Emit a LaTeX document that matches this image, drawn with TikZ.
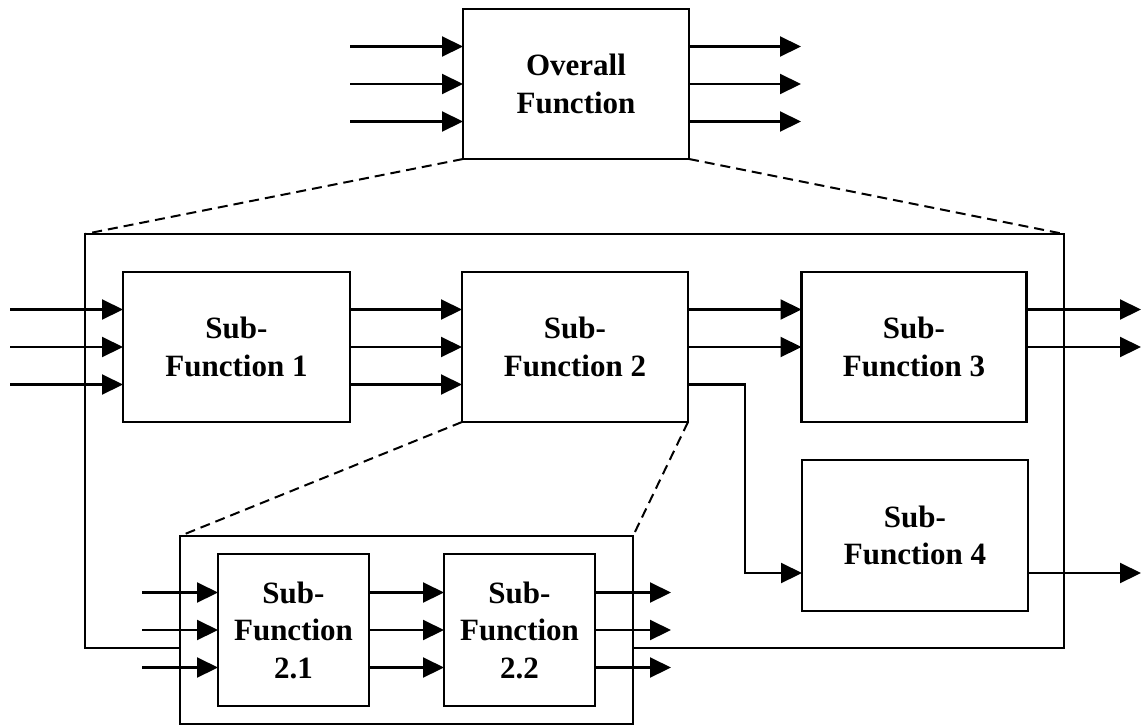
\documentclass[tikz,border=0pt]{standalone}
\usepackage{fontspec}
\setmainfont{Liberation Serif}
\usetikzlibrary{arrows.meta,calc}
\begin{document}
\begin{tikzpicture}[x=1pt,y=-1pt,
  box/.style={draw, line width=2.3pt, fill=white, inner sep=0pt, outer sep=0pt,
    align=center, font=\fontsize{31}{37.5}\selectfont\bfseries},
  frame/.style={draw, line width=2.3pt, inner sep=0pt, outer sep=0pt},
  arr/.style={line width=2.1pt, -{Triangle[length=21pt,width=20pt]}},
  zoomline/.style={line width=2pt, dash pattern=on 10pt off 6pt}]
\useasboundingbox (0,0) rectangle (1142,726);

% decomposed system frame
\node[frame, minimum width=979pt, minimum height=414pt] (sys) at (574.5,441) {};

% overall function
\node[box, minimum width=226pt, minimum height=150pt] (ov) at (576,84) {Overall\\Function};

% first level sub-functions
\node[box, minimum width=227pt, minimum height=150pt] (sf1) at (236.5,347) {Sub-\\Function 1};
\node[box, minimum width=226pt, minimum height=150pt] (sf2) at (575,347) {Sub-\\Function 2};
\node[box, minimum width=225pt, minimum height=150pt] (sf3) at (914,347) {Sub-\\Function 3};
\node[box, minimum width=226pt, minimum height=151pt] (sf4) at (915,535.5) {Sub-\\Function 4};

% frame of sub-function 2 decomposition
\node[frame, fill=white, minimum width=453pt, minimum height=188pt] (sub2) at (406.5,630) {};
\node[box, minimum width=151pt, minimum height=152pt] (sf21) at (293.5,630) {Sub-\\Function\\2.1};
\node[box, minimum width=151pt, minimum height=152pt] (sf22) at (519.5,630) {Sub-\\Function\\2.2};

% zoom lines
\draw[zoomline] (ov.south west) -- (sys.north west);
\draw[zoomline] (ov.south east) -- (sys.north east);
\draw[zoomline] (sf2.south west) -- (sub2.north west);
\draw[zoomline] (sf2.south east) -- (sub2.north east);

% free ends
\coordinate (ovin) at (350,0);
\coordinate (ovout) at (801,0);
\coordinate (sysin) at (10,0);
\coordinate (sysout) at (1141,0);
\coordinate (subin) at (142,0);
\coordinate (subout) at (671,0);

% flows of overall function
\foreach \s in {37.5,0,-37.5}{
  \draw[arr] ([yshift=\s pt]ov.west -| ovin) -- ([yshift=\s pt]ov.west);
  \draw[arr] ([yshift=\s pt]ov.east) -- ([yshift=\s pt]ov.east -| ovout);
}

% flows of first level
\foreach \s in {37.5,0,-37.5}{
  \draw[arr] ([yshift=\s pt]sf1.west -| sysin) -- ([yshift=\s pt]sf1.west);
  \draw[arr] ([yshift=\s pt]sf1.east) -- ([yshift=\s pt]sf2.west);
}
\foreach \s in {37.5,0}{
  \draw[arr] ([yshift=\s pt]sf2.east) -- ([yshift=\s pt]sf3.west);
  \draw[arr] ([yshift=\s pt]sf3.east) -- ([yshift=\s pt]sf3.east -| sysout);
}
\draw[arr] ([yshift=-37.5pt]sf2.east) -- ++(57,0) |- ([yshift=-37.5pt]sf4.west);
\draw[arr] ([yshift=-37.5pt]sf4.east) -- ([yshift=-37.5pt]sf4.east -| sysout);

% flows of second level
\foreach \s in {37.5,0,-37.5}{
  \draw[arr] ([yshift=\s pt]sf21.west -| subin) -- ([yshift=\s pt]sf21.west);
  \draw[arr] ([yshift=\s pt]sf21.east) -- ([yshift=\s pt]sf22.west);
  \draw[arr] ([yshift=\s pt]sf22.east) -- ([yshift=\s pt]sf22.east -| subout);
}
\end{tikzpicture}
\end{document}
